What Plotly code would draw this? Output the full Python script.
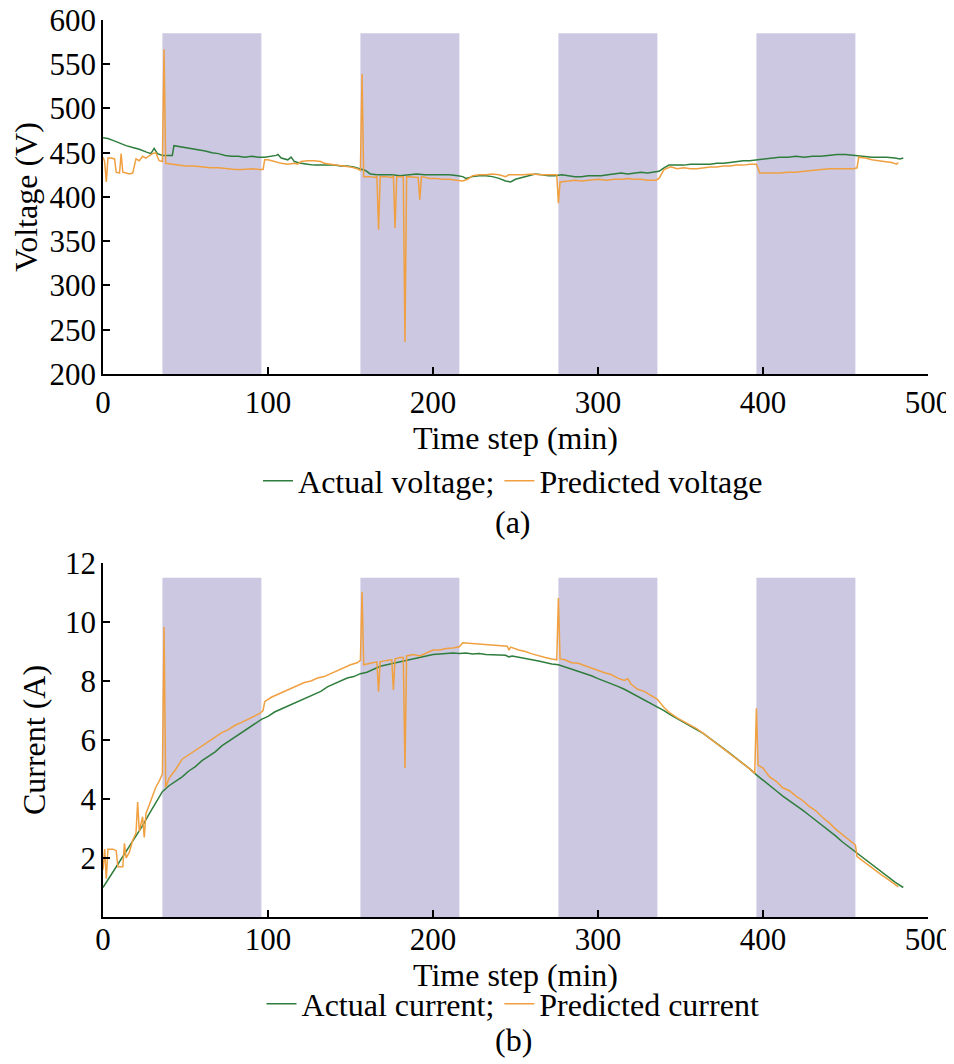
import plotly.graph_objects as go

# shaded windows (min) and their top edges
shade_start = [36, 156, 276, 396]
shade_end = [96, 216, 336, 456]
shade_top_v = 585
shade_top_i = 11.5

# (a) voltage
volt_act_t = [0, 3, 6, 10, 14, 18, 22, 26, 29, 31, 33, 36, 40, 42, 43, 46, 50, 54, 58, 62, 66, 70, 74, 78,
              82, 86, 90, 94, 98, 102, 105, 106, 108, 112, 114, 116, 120, 124, 128, 132, 136, 140, 144,
              148, 152, 156, 159, 162, 166, 170, 175, 180, 185, 190, 195, 200, 205, 210, 215, 218, 220,
              224, 228, 232, 236, 240, 244, 247, 250, 254, 258, 262, 266, 270, 274, 278, 282, 286, 290,
              294, 298, 302, 306, 310, 314, 318, 322, 326, 330, 334, 337, 340, 343, 348, 352, 356, 360,
              364, 368, 372, 376, 380, 384, 388, 392, 396, 400, 405, 410, 415, 420, 425, 430, 435, 440,
              445, 450, 455, 458, 462, 466, 470, 475, 480, 483, 485]
volt_act = [467, 466, 464, 461, 458, 456, 454, 451, 449, 455, 449, 447, 447, 447, 458, 457, 456, 455, 453,
            452, 450, 449, 447, 446, 446, 445, 446, 445, 445, 446, 447, 448, 444, 442, 445, 440, 438, 437,
            436, 436, 436, 436, 435, 435, 434, 432, 430, 426, 425, 425, 425, 424, 425, 426, 425, 425, 425,
            425, 424, 423, 421, 423, 424, 424, 423, 421, 418, 417, 420, 422, 424, 426, 425, 424, 424, 425,
            424, 423, 423, 424, 424, 424, 425, 426, 427, 426, 427, 428, 427, 428, 429, 433, 436, 436, 436,
            437, 437, 437, 437, 438, 438, 439, 440, 441, 441, 442, 443, 444, 445, 445, 446, 445, 446, 446,
            447, 448, 448, 447, 446, 446, 445, 445, 445, 444, 443, 444]

volt_pred_t = [0, 1, 2, 3, 5, 7, 8, 10, 11, 12, 14, 16, 18, 20, 22, 24, 26, 28, 30, 32, 34, 36, 37, 38, 42,
               46, 50, 55, 60, 65, 70, 75, 80, 85, 90, 95, 97, 98, 100, 104, 108, 112, 116, 118, 120, 124,
               128, 132, 134, 138, 142, 146, 150, 154, 156, 157, 158, 162, 165, 166, 167, 168, 172, 175,
               176, 177, 178, 182, 183, 184, 188, 191, 192, 193, 198, 202, 206, 210, 214, 218, 221, 224,
               228, 232, 236, 240, 244, 246, 250, 255, 260, 265, 270, 275, 276, 277, 282, 286, 290, 295,
               300, 305, 310, 315, 318, 322, 326, 330, 335, 337, 340, 344, 348, 352, 356, 360, 364, 368,
               372, 376, 380, 384, 388, 392, 396, 398, 402, 406, 410, 415, 420, 425, 430, 435, 440, 445,
               450, 455, 457, 458, 462, 466, 470, 475, 478, 481, 482]
volt_pred = [445, 440, 417, 444, 444, 443, 428, 427, 449, 428, 427, 426, 427, 443, 441, 446, 444, 447, 449,
             450, 441, 440, 567, 438, 437, 436, 435, 435, 434, 433, 433, 432, 431, 431, 432, 431, 431, 442,
             442, 440, 438, 437, 438, 437, 440, 441, 441, 440, 438, 437, 436, 435, 434, 432, 430, 539, 423,
             423, 422, 424, 363, 423, 423, 422, 424, 365, 423, 423, 236, 423, 422, 422, 397, 423, 421, 421,
             420, 420, 419, 418, 420, 424, 425, 425, 426, 425, 423, 425, 425, 425, 426, 425, 425, 425, 393,
             417, 418, 419, 418, 419, 420, 419, 420, 420, 421, 420, 420, 419, 419, 421, 431, 434, 432, 433,
             432, 432, 433, 434, 434, 435, 435, 436, 436, 437, 437, 427, 427, 427, 427, 428, 428, 429, 430,
             431, 432, 432, 432, 432, 433, 445, 444, 442, 441, 440, 439, 437, 439]

# (b) current
curr_act_t = [0, 4, 8, 12, 16, 20, 24, 28, 32, 36, 40, 44, 48, 52, 56, 60, 64, 68, 72, 76, 80, 84, 88, 92,
              96, 100, 104, 108, 112, 116, 120, 124, 128, 132, 136, 140, 144, 148, 152, 156, 160, 164,
              168, 172, 176, 180, 184, 188, 192, 196, 200, 204, 208, 212, 216, 220, 224, 228, 232, 236,
              240, 244, 246, 248, 252, 256, 260, 264, 268, 272, 276, 280, 284, 288, 292, 296, 300, 304,
              308, 312, 316, 320, 324, 328, 332, 336, 340, 344, 348, 352, 356, 360, 364, 368, 372, 376,
              380, 384, 388, 392, 396, 400, 404, 408, 412, 416, 420, 424, 428, 432, 436, 440, 444, 448,
              452, 456, 460, 464, 468, 472, 476, 480, 485]
curr_act = [1.0, 1.35, 1.7, 2.05, 2.4, 2.75, 3.1, 3.5, 3.9, 4.25, 4.45, 4.6, 4.75, 4.95, 5.1, 5.3, 5.45,
            5.6, 5.8, 5.95, 6.1, 6.25, 6.4, 6.55, 6.7, 6.8, 6.95, 7.05, 7.15, 7.25, 7.35, 7.45, 7.55, 7.65,
            7.8, 7.9, 8.0, 8.1, 8.15, 8.25, 8.3, 8.4, 8.5, 8.55, 8.6, 8.65, 8.7, 8.75, 8.8, 8.85, 8.9, 8.92,
            8.93, 8.95, 8.93, 8.95, 8.92, 8.93, 8.9, 8.9, 8.88, 8.87, 8.82, 8.85, 8.8, 8.75, 8.72, 8.68,
            8.62, 8.58, 8.55, 8.48, 8.4, 8.33, 8.25, 8.18, 8.08, 8.0, 7.9, 7.82, 7.72, 7.6, 7.5, 7.38,
            7.25, 7.12, 7.0, 6.85, 6.72, 6.6, 6.48, 6.35, 6.22, 6.05, 5.9, 5.72, 5.55, 5.38, 5.2, 5.02,
            4.82, 4.65, 4.45, 4.28, 4.1, 3.95, 3.78, 3.62, 3.45, 3.28, 3.1, 2.92, 2.75, 2.55, 2.38, 2.2,
            2.02, 1.85, 1.68, 1.5, 1.35, 1.18, 1.0]

curr_pred_t = [0, 1, 2, 3, 6, 8, 9, 12, 13, 14, 16, 18, 20, 21, 22, 24, 25, 26, 28, 30, 32, 34, 36, 37, 38,
               40, 44, 48, 52, 56, 60, 64, 68, 72, 76, 80, 84, 88, 92, 95, 97, 98, 102, 106, 110, 114,
               118, 122, 126, 130, 134, 138, 142, 146, 150, 154, 156, 157, 158, 162, 166, 167, 168, 172,
               175, 176, 177, 180, 182, 183, 184, 188, 192, 196, 200, 204, 208, 212, 216, 218, 222, 226,
               230, 234, 238, 242, 245, 246, 247, 252, 256, 260, 264, 268, 272, 275, 276, 277, 280, 284,
               288, 292, 296, 300, 304, 308, 312, 316, 318, 320, 324, 328, 332, 336, 340, 344, 348, 352,
               356, 360, 364, 368, 372, 376, 380, 384, 388, 392, 395, 396, 397, 400, 404, 408, 412, 416,
               420, 424, 428, 432, 436, 440, 444, 448, 452, 456, 457, 460, 464, 468, 472, 476, 480, 482]
curr_pred = [1.6, 2.3, 1.3, 2.3, 2.3, 2.25, 1.7, 1.7, 2.5, 2.0, 2.2, 2.6, 2.85, 3.9, 2.9, 3.4, 2.7, 3.5,
             3.8, 4.1, 4.4, 4.6, 4.85, 9.83, 4.4, 4.7, 5.0, 5.35, 5.5, 5.65, 5.8, 5.95, 6.1, 6.25, 6.35,
             6.5, 6.6, 6.7, 6.8, 6.9, 7.0, 7.3, 7.45, 7.55, 7.65, 7.75, 7.85, 7.95, 8.0, 8.1, 8.15, 8.25,
             8.35, 8.45, 8.55, 8.62, 8.7, 11.03, 8.55, 8.6, 8.65, 7.64, 8.65, 8.7, 8.72, 7.7, 8.75, 8.8,
             8.8, 5.05, 8.85, 8.9, 8.85, 8.95, 9.05, 9.05, 9.1, 9.12, 9.16, 9.3, 9.28, 9.27, 9.25, 9.23,
             9.22, 9.2, 9.18, 9.05, 9.15, 9.05, 9.0, 8.92, 8.85, 8.8, 8.75, 8.72, 10.81, 8.75, 8.72, 8.62,
             8.6, 8.52, 8.45, 8.35, 8.28, 8.22, 8.1, 8.02, 8.08, 7.9, 7.72, 7.65, 7.5, 7.38, 7.1, 6.9,
             6.75, 6.62, 6.5, 6.38, 6.22, 6.05, 5.88, 5.7, 5.52, 5.36, 5.18, 5.02, 4.87, 7.08, 5.15, 5.05,
             4.75, 4.6, 4.38, 4.28, 4.1, 3.95, 3.75, 3.6, 3.38, 3.2, 2.98, 2.8, 2.6, 2.44, 2.05, 1.92,
             1.75, 1.6, 1.42, 1.27, 1.1, 1.02]

GREEN = '#2e7d3c'
ORANGE = '#f0a040'
SHADE = '#cdc8e2'
FONT = 'Liberation Serif'

fig = go.Figure()

fig.add_trace(go.Scatter(x=volt_act_t, y=volt_act, mode='lines', name='Actual voltage;',
                         line=dict(color=GREEN, width=1.5), xaxis='x', yaxis='y', legend='legend'))
fig.add_trace(go.Scatter(x=volt_pred_t, y=volt_pred, mode='lines', name='Predicted voltage',
                         line=dict(color=ORANGE, width=1.5), xaxis='x', yaxis='y', legend='legend'))
fig.add_trace(go.Scatter(x=curr_act_t, y=curr_act, mode='lines', name='Actual current;',
                         line=dict(color=GREEN, width=1.5), xaxis='x2', yaxis='y2', legend='legend2'))
fig.add_trace(go.Scatter(x=curr_pred_t, y=curr_pred, mode='lines', name='Predicted current',
                         line=dict(color=ORANGE, width=1.5), xaxis='x2', yaxis='y2', legend='legend2'))

# shaded windows behind the lines
for s, e in zip(shade_start, shade_end):
    fig.add_shape(type='rect', xref='x', yref='y', x0=s, x1=e, y0=200, y1=shade_top_v,
                  fillcolor=SHADE, line_width=0, layer='below')
    fig.add_shape(type='rect', xref='x2', yref='y2', x0=s, x1=e, y0=0, y1=shade_top_i,
                  fillcolor=SHADE, line_width=0, layer='below')

axis_style = dict(showline=True, linecolor='black', linewidth=1.5, ticks='inside', ticklen=7,
                  tickcolor='black', tickwidth=1.5, showgrid=False, zeroline=False,
                  tickfont=dict(size=31, color='black'), automargin=False,
                  ticklabeloverflow='allow')
title_font = dict(size=32, color='black')

fig.update_layout(
    width=954, height=1064,
    font=dict(family=FONT, size=32, color='black'),
    plot_bgcolor='white', paper_bgcolor='white',
    margin=dict(l=95, r=34, t=12, b=155),
    xaxis=dict(domain=[0, 1], anchor='y', range=[0, 500], tickvals=[0, 100, 200, 300, 400, 500],
               title=dict(text='Time step (min)', standoff=2, font=title_font), **axis_style),
    yaxis=dict(domain=[0.6054, 1], anchor='x', range=[200, 600], dtick=50, ticklabelstandoff=-1,
               title=dict(text='Voltage (V)', standoff=15, font=title_font), **axis_style),
    xaxis2=dict(domain=[0, 1], anchor='y2', range=[0, 500], tickvals=[0, 100, 200, 300, 400, 500],
                ticklabelstandoff=-6,
                title=dict(text='Time step (min)', standoff=0, font=title_font), **axis_style),
    yaxis2=dict(domain=[0, 0.3946], anchor='x2', range=[0, 12], tickvals=[2, 4, 6, 8, 10, 12],
                ticklabelstandoff=-1, title=dict(text='Current (A)', standoff=10, font=title_font),
                **axis_style),
    legend=dict(orientation='h', x=0.497, xanchor='center', y=0.486, yanchor='middle',
                font=dict(size=32), bgcolor='rgba(0,0,0,0)', itemwidth=30, tracegroupgap=0),
    legend2=dict(orientation='h', x=0.497, xanchor='center', y=-0.097, yanchor='middle',
                 font=dict(size=32), bgcolor='rgba(0,0,0,0)', itemwidth=30, tracegroupgap=0),
    annotations=[
        dict(text='(a)', xref='paper', yref='paper', x=0.497, y=0.4404, xanchor='center',
             yanchor='middle', showarrow=False, font=dict(size=32)),
        dict(text='(b)', xref='paper', yref='paper', x=0.497, y=-0.137, xanchor='center',
             yanchor='middle', showarrow=False, font=dict(size=32)),
    ],
)

fig.write_html("out.html")
